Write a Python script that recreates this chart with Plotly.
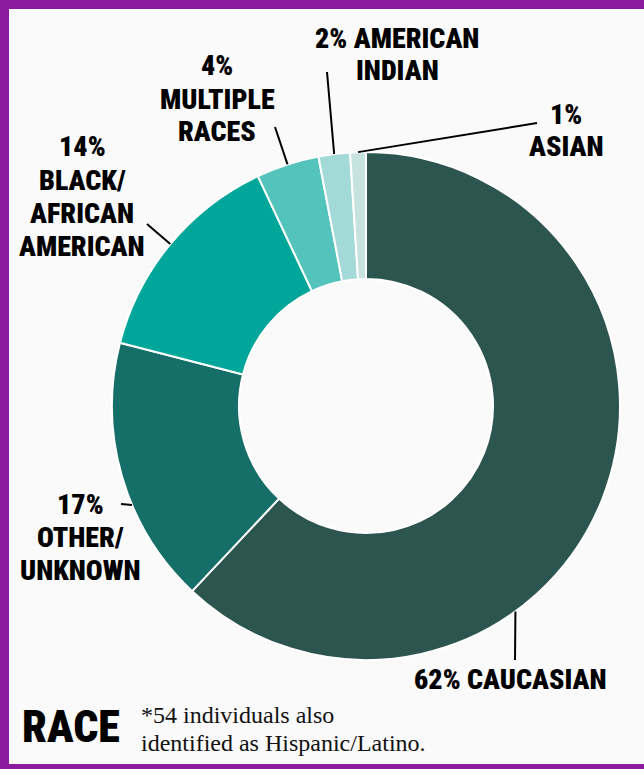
import math
import plotly.graph_objects as go

# ---- data ----
categories = ["CAUCASIAN", "OTHER/UNKNOWN", "BLACK/AFRICAN AMERICAN",
              "MULTIPLE RACES", "AMERICAN INDIAN", "ASIAN"]
percent = [62, 17, 14, 4, 2, 1]
label_lines = [
    ["62% CAUCASIAN"],
    ["17%", "OTHER/", "UNKNOWN"],
    ["14%", "BLACK/", "AFRICAN", "AMERICAN"],
    ["4%", "MULTIPLE", "RACES"],
    ["2% AMERICAN", "INDIAN"],
    ["1%", "ASIAN"],
]
colors = ["#2c5550", "#166e68", "#00a699", "#53c3bb", "#a3d9d6", "#c6e3df"]
title_text = "RACE"
footnote_lines = ["*54 individuals also", "identified as Hispanic/Latino."]

# ---- layout constants (pixels) ----
W, H = 644, 769
CX, CY, R = 366, 406, 254
LINE_GAP = 33
COND = "Roboto Condensed, Noto Sans Condensed, Liberation Sans Narrow, DejaVu Sans Condensed, sans-serif"
LBL_SIZE = 28

# label centre of first line (x, y) per slice, leader end point, position in slice
label_pos = [(510, 679), (80, 504), (82, 147), (217, 66), (397, 38), (566, 114)]
leader_end = [(515, 660), (121, 504), (147, 224), (275, 127), (327, 72), (537, 123)]
leader_frac = [0.645, 0.39, 0.5, 0.5, 0.5, 0.5]


def px(x):
    return x / W


def py(y):
    return 1 - y / H


fig = go.Figure(go.Pie(
    labels=categories, values=percent, sort=False, direction="clockwise",
    rotation=0, hole=0.5, textinfo="none", hoverinfo="label+percent",
    marker=dict(colors=colors, line=dict(color="white", width=2)),
    domain=dict(x=[px(CX - R), px(CX + R)], y=[py(CY + R), py(CY - R)]),
    showlegend=False,
))

annotations = []
shapes = []
total = sum(percent)
cum = 0
for i, v in enumerate(percent):
    a0 = cum / total * 360
    a1 = (cum + v) / total * 360
    cum += v
    ang = math.radians(a0 + (a1 - a0) * leader_frac[i])
    sx = CX + R * math.sin(ang)
    sy = CY - R * math.cos(ang)
    ex, ey = leader_end[i]
    shapes.append(dict(type="line", xref="paper", yref="paper",
                       x0=px(sx), y0=py(sy), x1=px(ex), y1=py(ey),
                       line=dict(color="black", width=2)))
    lx, ly = label_pos[i]
    for j, t in enumerate(label_lines[i]):
        annotations.append(dict(
            text=t, xref="paper", yref="paper", x=px(lx), y=py(ly + j * LINE_GAP),
            xanchor="center", yanchor="middle", showarrow=False,
            font=dict(family=COND, size=LBL_SIZE, color="black", weight=900)))

annotations.append(dict(
    text=title_text, xref="paper", yref="paper", x=px(71), y=py(727),
    xanchor="center", yanchor="middle", showarrow=False,
    font=dict(family=COND, size=44, color="black", weight=900)))
for j, t in enumerate(footnote_lines):
    annotations.append(dict(
        text=t, xref="paper", yref="paper", x=px(139), y=py(715 + j * 28),
        xanchor="left", yanchor="middle", showarrow=False,
        font=dict(family="Liberation Serif, Times New Roman, serif", size=24,
                  color="#111111")))

purple = "#8a1b9e"
shapes += [
    dict(type="rect", xref="paper", yref="paper", x0=0, x1=px(9), y0=0, y1=1,
         fillcolor=purple, line=dict(width=0)),
    dict(type="rect", xref="paper", yref="paper", x0=0, x1=1, y0=py(9), y1=1,
         fillcolor=purple, line=dict(width=0)),
    dict(type="rect", xref="paper", yref="paper", x0=0, x1=1, y0=0, y1=py(764),
         fillcolor=purple, line=dict(width=0)),
]

fig.update_layout(
    width=W, height=H, margin=dict(l=0, r=0, t=0, b=0),
    paper_bgcolor="#fafafa", plot_bgcolor="#fafafa",
    annotations=annotations, shapes=shapes,
)
fig.write_html(
    "out.html",
    config={"displayModeBar": False},
    post_script="document.body.style.margin='0';document.body.style.overflow='hidden';",
)
